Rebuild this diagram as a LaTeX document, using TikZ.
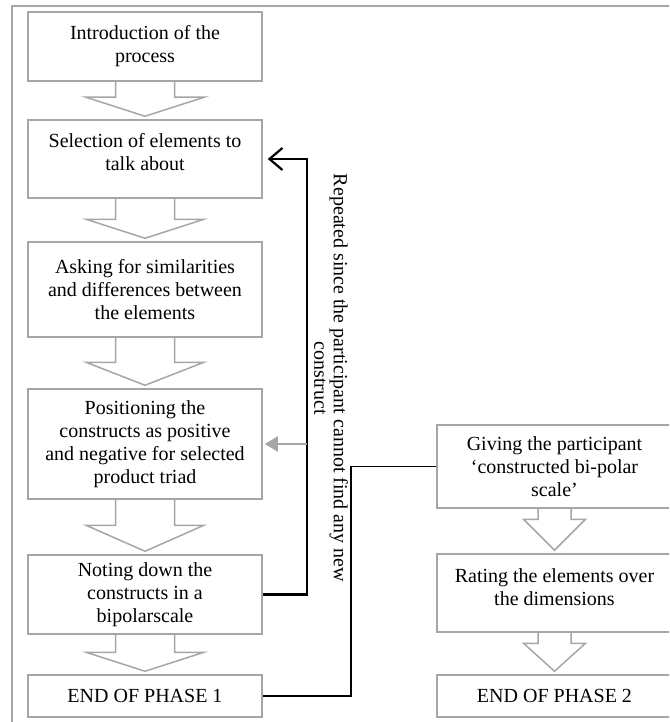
\documentclass[tikz,border=0pt]{standalone}
\usepackage{fontspec}
\setmainfont{Liberation Serif}
\usetikzlibrary{arrows.meta, calc}

% hollow block arrow between two boxes: from, to, shaft half, head half, head length
\newcommand{\flowarrow}[5]{%
  \draw[blockarrow] ($(#1.south)+(-#3,0)$) -- ($(#2.north)+(-#3,-#5-3)$)
    -- ($(#2.north)+(-#4,-#5-3)$) -- ($(#2.north)+(0,-3)$)
    -- ($(#2.north)+(#4,-#5-3)$) -- ($(#2.north)+(#3,-#5-3)$) -- ($(#1.south)+(#3,0)$);}

\begin{document}
\begin{tikzpicture}[x=1pt, y=-1pt, every node/.style={align=center}]
      \colorlet{boxline}{gray!70}
      \tikzset{
        stepbox/.style={draw=boxline, line width=1.5pt, minimum width=234pt, inner sep=4pt, font=\fontsize{20}{23}\selectfont},
        sidebox/.style={stepbox, minimum width=235pt},
        blockarrow/.style={draw=boxline, line width=1.5pt, line join=miter},
        loopline/.style={draw=black, line width=2.2pt},
        linkline/.style={draw=black, line width=1.6pt},
      }
      \useasboundingbox (0,0) rectangle (669,722);
      \clip (0,0) rectangle (669,722);
      \draw[boxline, line width=1.5pt] (12,6) rectangle (720,760);
      % phase 1
      \node[stepbox, minimum height=69pt] (intro) at (145,46.5) {Introduction of the\\process};
      \node[stepbox, minimum height=78pt, text depth=14pt] (select) at (145,159) {Selection of elements to\\talk about};
      \node[stepbox, minimum height=95pt] (asking) at (145,289.5) {Asking for similarities\\and differences between\\the elements};
      \node[stepbox, minimum height=110pt] (position) at (145,444) {Positioning the\\constructs as positive\\and negative for selected\\product triad};
      \node[stepbox, minimum height=79pt] (noting) at (145,594.5) {Noting down the\\constructs in a\\bipolarscale};
      \node[stepbox, minimum height=42pt] (endone) at (145,696) {END OF PHASE 1};
      % phase 2
      \node[sidebox, minimum height=83pt] (giving) at (554.5,466.5) {Giving the participant\\‘constructed bi-polar\\scale’};
      \node[sidebox, minimum height=78pt, text depth=12pt] (rating) at (554.5,593) {Rating the elements over\\the dimensions};
      \node[sidebox, minimum height=42pt] (endtwo) at (554.5,696) {END OF PHASE 2};
      \flowarrow{intro}{select}{29.5}{59}{19}
      \flowarrow{select}{asking}{29.5}{59}{19}
      \flowarrow{asking}{position}{29.5}{59}{23}
      \flowarrow{position}{noting}{29.5}{59}{26}
      \flowarrow{noting}{endone}{29.5}{59}{19}
      \flowarrow{giving}{rating}{16.5}{31}{31}
      \flowarrow{rating}{endtwo}{16.5}{31}{28}
      % repeat loop
      \coordinate (loop) at ($(noting.east)+(44,0)$);
      \draw[loopline, -{Straight Barb[length=13pt, width=22pt]}] (noting.east) -- (loop) |- ([xshift=5pt]select.east);
      \draw[boxline, line width=1.5pt, -{Triangle[length=13pt, width=15pt]}] (loop |- position.east) -- ([xshift=2pt]position.east);
      \node[rotate=-90, font=\fontsize{20}{19.5}\selectfont] (repeat) at (331,378) {Repeated since the participant cannot find any new\\construct};
      % link to phase 2
      \coordinate (bridge) at ($(endone.east)+(88,0)$);
      \draw[linkline] (endone.east) -- (bridge) |- (giving.west);
    \end{tikzpicture}
\end{document}
